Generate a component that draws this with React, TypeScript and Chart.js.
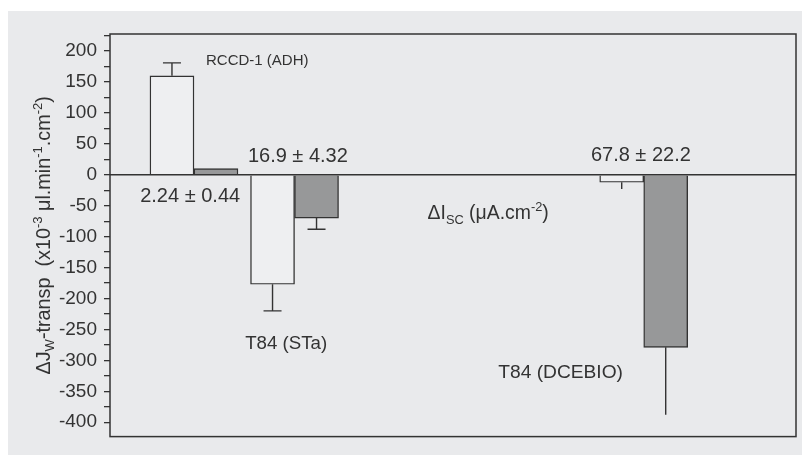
import React, { useEffect, useRef } from 'react';
import { Chart, registerables } from 'chart.js';

Chart.register(...registerables);

// ---- data ----
const categories = ['RCCD-1 (ADH)', 'T84 (STa)', 'T84 (DCEBIO)'];
// x position of each group = ΔIsc (µA.cm-2)
const deltaIsc = [2.24, 16.9, 67.8];
const deltaIscSem = [0.44, 4.32, 22.2];
const whiteValues = [160, -177, -12];
const whiteErrors = [21, 43, 11];
const grayValues = [10, -70, -279];
const grayErrors = [0, 18, 109];
const whiteCaps = [true, true, false];
const grayCaps = [false, true, false];
const yMin = -423.3;
const yMax = 227.7;
const yStep = 25;
const yLabelStep = 50;
const xMin = -10;
const xMax = 90;

const FONT = "'Liberation Sans', Arial, Helvetica, sans-serif";
const TEXT = '#333333';
const LINE = '#333333';

type Seg = { t: string; k?: 'sub' | 'sup' };

function segFont(size: number, k?: string) {
  const fs = k ? size * 0.66 : size;
  return `${fs}px ${FONT}`;
}
function richWidth(ctx: CanvasRenderingContext2D, segs: Seg[], size: number) {
  let w = 0;
  for (const s of segs) {
    ctx.font = segFont(size, s.k);
    w += ctx.measureText(s.t).width;
  }
  return w;
}
function drawRich(ctx: CanvasRenderingContext2D, segs: Seg[], x: number, y: number, size: number) {
  let cx = x;
  ctx.textAlign = 'left';
  ctx.textBaseline = 'alphabetic';
  for (const s of segs) {
    ctx.font = segFont(size, s.k);
    const dy = s.k === 'sup' ? -size * 0.42 : s.k === 'sub' ? size * 0.22 : 0;
    ctx.fillText(s.t, cx, y + dy);
    cx += ctx.measureText(s.t).width;
  }
}

// annotation anchors (data coordinates, left/baseline)
const annotations: { segs: Seg[]; x: number; y: number; size: number }[] = [
  { segs: [{ t: categories[0] }], x: 4.0, y: 177, size: 15 },
  { segs: [{ t: `${deltaIsc[0]} ± ${deltaIscSem[0]}` }], x: -5.6, y: -43.6, size: 20 },
  { segs: [{ t: `${deltaIsc[1]} ± ${deltaIscSem[1]}` }], x: 10.1, y: 20.8, size: 20 },
  { segs: [{ t: `${deltaIsc[2]} ± ${deltaIscSem[2]}` }], x: 60.1, y: 21.7, size: 20 },
  { segs: [{ t: categories[1] }], x: 9.7, y: -281.4, size: 18.7 },
  { segs: [{ t: categories[2] }], x: 46.6, y: -328, size: 19.2 },
  {
    segs: [{ t: 'ΔI' }, { t: 'SC', k: 'sub' }, { t: ' (μA.cm' }, { t: '-2', k: 'sup' }, { t: ')' }],
    x: 36.3,
    y: -72.1,
    size: 19.4,
  },
];

const yTitle: Seg[] = [
  { t: 'ΔJ' },
  { t: 'W', k: 'sub' },
  { t: '-transp  (x10' },
  { t: '-3', k: 'sup' },
  { t: ' μl.min' },
  { t: '-1', k: 'sup' },
  { t: '.cm' },
  { t: '-2', k: 'sup' },
  { t: ')' },
];

const overlayPlugin = {
  id: 'overlay',
  afterDatasetsDraw(chart: any) {
    const ctx: CanvasRenderingContext2D = chart.ctx;
    const { left, right, top, bottom } = chart.chartArea;
    const xs = chart.scales.x;
    const ys = chart.scales.y;
    ctx.save();

    // error bars
    const errs = [whiteErrors, grayErrors];
    const vals = [whiteValues, grayValues];
    const caps = [whiteCaps, grayCaps];
    ctx.strokeStyle = LINE;
    ctx.lineWidth = 1.4;
    for (let d = 0; d < 2; d++) {
      const meta = chart.getDatasetMeta(d);
      meta.data.forEach((bar: any, i: number) => {
        const v = vals[d][i];
        const e = errs[d][i];
        if (!e) return;
        const sign = v >= 0 ? 1 : -1;
        const y0 = ys.getPixelForValue(v);
        const y1 = ys.getPixelForValue(v + sign * e);
        ctx.beginPath();
        ctx.moveTo(bar.x, y0);
        ctx.lineTo(bar.x, y1);
        if (caps[d][i]) {
          ctx.moveTo(bar.x - 9, y1);
          ctx.lineTo(bar.x + 9, y1);
        }
        ctx.stroke();
      });
    }

    // zero line
    ctx.lineWidth = 1.5;
    const y0 = ys.getPixelForValue(0);
    ctx.beginPath();
    ctx.moveTo(left, y0);
    ctx.lineTo(right, y0);
    ctx.stroke();

    // frame
    ctx.strokeRect(left, top, right - left, bottom - top);

    // annotations
    ctx.fillStyle = TEXT;
    for (const a of annotations) {
      drawRich(ctx, a.segs, xs.getPixelForValue(a.x), ys.getPixelForValue(a.y), a.size);
    }

    // y title
    const size = 19.8;
    const w = richWidth(ctx, yTitle, size);
    ctx.translate(42, (top + bottom) / 2);
    ctx.rotate(-Math.PI / 2);
    drawRich(ctx, yTitle, -w / 2, 0, size);
    ctx.restore();
  },
};

export default function App() {
  const ref = useRef<HTMLCanvasElement>(null);
  useEffect(() => {
    if (!ref.current) return;
    const chart = new Chart(ref.current, {
      type: 'bar',
      data: {
        datasets: [
          {
            label: 'white',
            data: deltaIsc.map((x, i) => ({ x, y: whiteValues[i] })),
            backgroundColor: '#eeeff1',
            borderColor: LINE,
            borderWidth: 1.4,
            barThickness: 44,
          },
          {
            label: 'gray',
            data: deltaIsc.map((x, i) => ({ x, y: grayValues[i] })),
            backgroundColor: '#979899',
            borderColor: LINE,
            borderWidth: 1.4,
            barThickness: 44,
          },
        ],
      } as any,
      options: {
        animation: false,
        responsive: true,
        maintainAspectRatio: false,
        layout: { padding: { left: 0, top: 23, right: 14, bottom: 17 } },
        plugins: { legend: { display: false }, tooltip: { enabled: false } },
        scales: {
          x: {
            type: 'linear',
            min: xMin,
            max: xMax,
            display: false,
            offset: false,
          },
          y: {
            type: 'linear',
            display: true,
            position: 'left',
            min: yMin,
            max: yMax,
            beginAtZero: false,
            ticks: {
              display: true,
              stepSize: yStep,
              includeBounds: false,
              autoSkip: false,
              padding: 7,
              color: TEXT,
              font: { family: FONT, size: 19 },
              callback: (v: any) => {
                const n = Math.round(Number(v));
                return n % yLabelStep === 0 ? String(n) : '';
              },
            },
            afterFit: (scale: any) => {
              scale.width = 102;
            },
            grid: {
              display: true,
              drawOnChartArea: false,
              drawTicks: true,
              tickLength: 6,
              color: LINE,
              lineWidth: 1.3,
            },
            border: { display: false },
          },
        },
      } as any,
      plugins: [overlayPlugin],
    });
    return () => chart.destroy();
  }, []);

  return (
    <div style={{ position: 'relative', width: 802, height: 447 }}>
      <div
        style={{
          position: 'absolute',
          top: 3,
          left: 0,
          width: 802,
          height: 444,
          background: '#e9eaec',
        }}
      >
        <canvas ref={ref} />
      </div>
    </div>
  );
}
